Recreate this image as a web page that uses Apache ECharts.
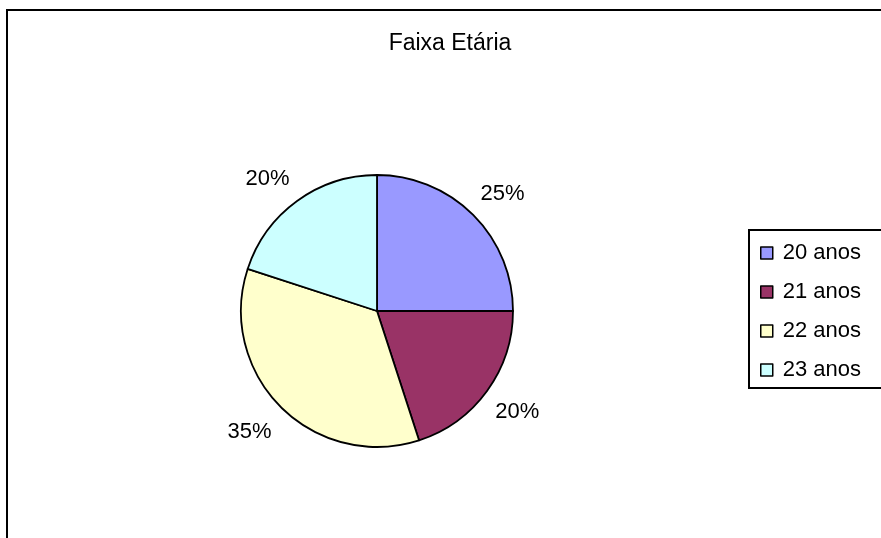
<!DOCTYPE html>
<html>
<head>
<meta charset="utf-8">
<title>Faixa Etária</title>
<script src="https://cdn.jsdelivr.net/npm/echarts@6/dist/echarts.min.js"></script>
<style>
  html, body { margin: 0; padding: 0; background: #fff; }
  #chart { width: 881px; height: 538px; }
</style>
</head>
<body>
<div id="chart"></div>
<script>
// Age bands and their share of respondents
const categories = ['20 anos', '21 anos', '22 anos', '23 anos'];
const values = [25, 20, 35, 20];
const sliceColors = ['#9999FF', '#993366', '#FFFFCC', '#CCFFFF'];
// small per-label nudges so the percentages sit snugly outside each slice
const labelNudge = [[1, 7], [-2, -3], [-3, -4], [-6, 10]];

const FONT = "'Liberation Sans', Arial, sans-serif";
const center = [377, 311];

const sliceData = categories.map((name, i) => ({
  name: name,
  value: values[i],
  itemStyle: { color: sliceColors[i] }
}));

const chart = echarts.init(document.getElementById('chart'), null, { renderer: 'canvas' });

chart.setOption({
  backgroundColor: '#ffffff',
  animation: false,
  textStyle: { fontFamily: FONT },
  title: {
    text: 'Faixa Etária',
    left: 445,
    top: 27,
    textAlign: 'center',
    textStyle: { fontFamily: FONT, fontSize: 23, fontWeight: 'normal', color: '#000' }
  },
  legend: {
    orient: 'vertical',
    left: 749,
    top: 230,
    padding: [12, 40, 7, 11],
    borderColor: '#000',
    borderWidth: 2,
    backgroundColor: '#fff',
    itemWidth: 12,
    itemHeight: 12,
    itemGap: 17,
    icon: 'rect',
    data: categories.map((name, i) => ({
      name: name,
      itemStyle: { color: sliceColors[i], borderColor: '#000', borderWidth: 1.5 }
    })),
    textStyle: {
      fontFamily: FONT,
      fontSize: 22,
      lineHeight: 22,
      color: '#000',
      padding: [0, 0, 0, 5]
    }
  },
  graphic: [{
    // outer chart frame
    type: 'rect',
    shape: { x: 7, y: 10, width: 2000, height: 2000 },
    style: { fill: 'none', stroke: '#000', lineWidth: 2 },
    silent: true,
    z: 0
  }],
  series: [
    {
      type: 'pie',
      center: center,
      radius: 136,
      startAngle: 90,
      clockwise: true,
      data: sliceData,
      itemStyle: { borderColor: '#000', borderWidth: 1.8 },
      label: { show: false },
      labelLine: { show: false },
      emphasis: { disabled: true }
    },
    {
      // invisible ring that carries the percentage labels
      type: 'pie',
      center: center,
      radius: [160, 186],
      startAngle: 90,
      clockwise: true,
      silent: true,
      data: categories.map((name, i) => ({
        name: name,
        value: values[i],
        label: { offset: labelNudge[i] }
      })),
      itemStyle: { color: 'rgba(0,0,0,0)', borderWidth: 0 },
      label: {
        show: true,
        position: 'inside',
        formatter: '{d}%',
        fontFamily: FONT,
        fontSize: 22,
        color: '#000'
      },
      labelLine: { show: false },
      emphasis: { disabled: true }
    }
  ]
});
</script>
</body>
</html>
